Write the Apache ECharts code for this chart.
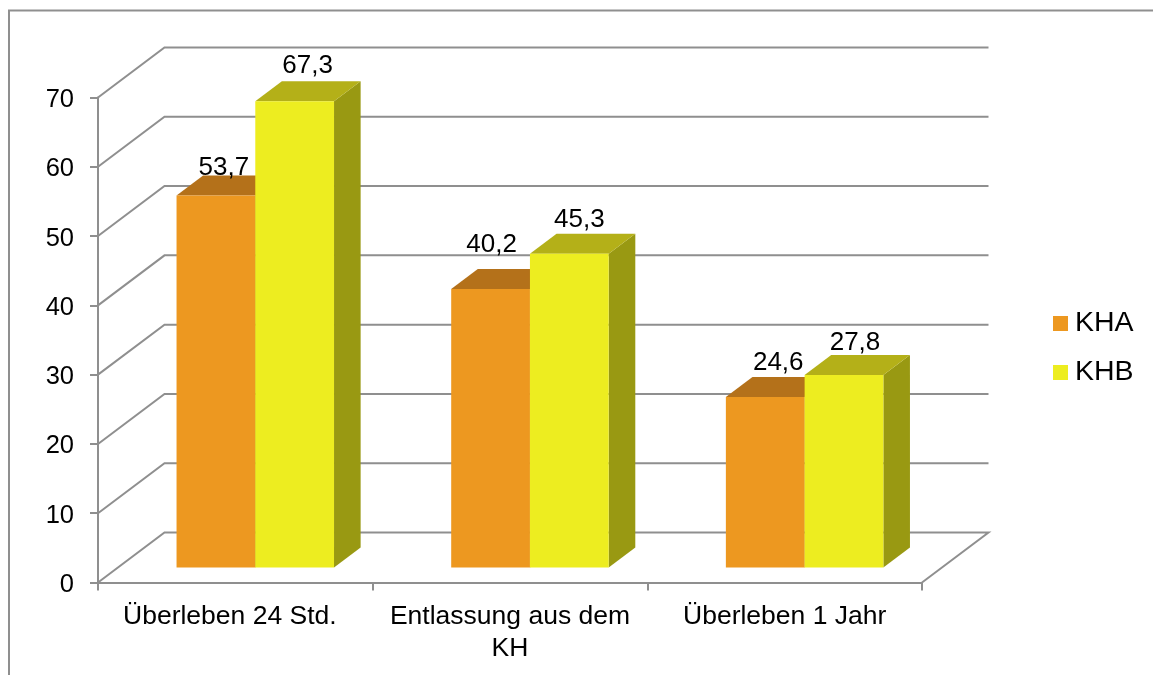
<!DOCTYPE html>
<html lang="en" style="height: 100%">
<head>
  <meta charset="utf-8">
  <script type="text/javascript" src="https://cdn.jsdelivr.net/npm/echarts@6/dist/echarts.min.js"></script>
</head>
<body style="height: 100%; margin: 0; background: #fff">
  <div id="chart" style="height: 675px; width: 1153px"></div>

  <script type="text/javascript">
	var categories = ['Überleben 24 Std.', 'Entlassung aus dem\nKH', 'Überleben 1 Jahr'];
	var khaValues = [53.7, 40.2, 24.6];
	var khbValues = [67.3, 45.3, 27.8];
	var yTicks = [0, 10, 20, 30, 40, 50, 60, 70];

	var FONT = '"Liberation Sans", Arial, sans-serif';
	var GRAY = '#8f8f8f';
	// how far the back wall sits behind the axis plane, in px
	var DEPTH_X = 66.5, DEPTH_Y = 50;
	var BAR_SHARE = 0.2867;

	// the data labels were placed by hand in the original, offsets from the bar's top centre
	var khaLabelShift = [[8, -28], [1, -44], [13, -34]];
	var khbLabelShift = [[13, -35], [10, -34], [11, -32]];

	function pairs(values) {
		var out = [];
		for (var i = 0; i < values.length; i++) {
			out.push([i, values[i]]);
		}
		return out;
	}

	function renderWall(params, api) {
		var cs = params.coordSys;
		var y = api.coord([0, api.value(1)])[1];
		var left = cs.x, right = cs.x + cs.width;
		var style = { stroke: GRAY, lineWidth: 2, fill: null };
		var points = [[left, y], [left + DEPTH_X, y - DEPTH_Y], [right + DEPTH_X, y - DEPTH_Y]];
		if (api.value(1) === 0) {
			points.push([right, y]);
		}
		return { type: 'polyline', shape: { points: points }, style: style };
	}

	function barRenderer(side, colors, shifts) {
		return function (params, api) {
			var top = api.coord([api.value(0), api.value(1)]);
			var base = api.coord([api.value(0), 0]);
			var w = api.size([1, 0])[0] * BAR_SHARE;
			var x0 = top[0] + DEPTH_X * 0.3 + side * w;
			var x1 = x0 + w;
			var yTop = top[1] - DEPTH_Y * 0.3;
			var yBase = base[1] - DEPTH_Y * 0.3;
			var dx = DEPTH_X * 0.4, dy = DEPTH_Y * 0.4;
			var shift = shifts[params.dataIndex];
			return {
				type: 'group',
				children: [
					{ type: 'polygon', shape: { points: [[x1, yTop], [x1 + dx, yTop - dy], [x1 + dx, yBase - dy], [x1, yBase]] }, style: { fill: colors.side } },
					{ type: 'polygon', shape: { points: [[x0, yTop], [x0 + dx, yTop - dy], [x1 + dx, yTop - dy], [x1, yTop]] }, style: { fill: colors.top } },
					{ type: 'rect', shape: { x: x0, y: yTop, width: w, height: yBase - yTop }, style: { fill: colors.front } },
					{
						type: 'text',
						z2: 10,
						x: x0 + w / 2 + shift[0],
						y: yTop + shift[1],
						style: {
							text: String(api.value(1)).replace('.', ','),
							font: '26px ' + FONT,
							fill: '#000',
							align: 'center',
							verticalAlign: 'middle'
						}
					}
				]
			};
		};
	}

	var chart = echarts.init(document.getElementById('chart'));
	var option = {
		animation: false,
		backgroundColor: '#fff',
		textStyle: { fontFamily: FONT },
		graphic: [{
			type: 'polyline',
			silent: true,
			shape: { points: [[9, 675], [9, 10.5], [1153, 10.5]] },
			style: { stroke: GRAY, lineWidth: 2, fill: null }
		}],
		grid: { left: 98, top: 97.5, width: 824, height: 485 },
		legend: {
			data: ['KHA', 'KHB'],
			orient: 'vertical',
			left: 1048,
			top: 304,
			itemWidth: 15,
			itemHeight: 15,
			itemGap: 20,
			icon: 'rect',
			textStyle: { fontSize: 28.5, color: '#000', fontFamily: FONT, padding: [0, 0, 0, 2] }
		},
		xAxis: {
			type: 'category',
			data: categories,
			axisLine: { lineStyle: { color: GRAY, width: 2 } },
			axisTick: { show: true, alignWithLabel: false, length: 8, lineStyle: { color: GRAY, width: 2 } },
			axisLabel: {
				interval: 0,
				fontSize: 26.5,
				color: '#000',
				margin: 18,
				lineHeight: 32,
				fontFamily: FONT,
				// the first label sits a little left of its band in the original
				formatter: function (value, index) {
					return index === 0 ? '{first|' + value + '}' : value;
				},
				rich: {
					first: { fontSize: 26.5, color: '#000', lineHeight: 32, fontFamily: FONT, padding: [0, 11, 0, 0] }
				}
			}
		},
		yAxis: {
			type: 'value',
			min: 0,
			max: 70,
			interval: 10,
			splitLine: { show: false },
			axisLine: { show: true, lineStyle: { color: GRAY, width: 2 } },
			axisTick: { show: true, length: 8, lineStyle: { color: GRAY, width: 2 } },
			axisLabel: { fontSize: 25.5, color: '#000', margin: 24, verticalAlign: 'top', lineHeight: 5, fontFamily: FONT }
		},
		series: [
			{
				name: 'wall',
				type: 'custom',
				z: 1,
				silent: true,
				renderItem: renderWall,
				data: yTicks.map(function (t) { return [0, t]; })
			},
			{
				name: 'KHA',
				type: 'custom',
				z: 3,
				itemStyle: { color: '#ED9820' },
				renderItem: barRenderer(-1, { front: '#ED9820', top: '#B4711A', side: '#99700F' }, khaLabelShift),
				data: pairs(khaValues)
			},
			{
				name: 'KHB',
				type: 'custom',
				z: 4,
				itemStyle: { color: '#EDED20' },
				renderItem: barRenderer(0, { front: '#EDED20', top: '#B4B018', side: '#999912' }, khbLabelShift),
				data: pairs(khbValues)
			}
		]
	};
	chart.setOption(option);
  </script>
</body>
</html>
